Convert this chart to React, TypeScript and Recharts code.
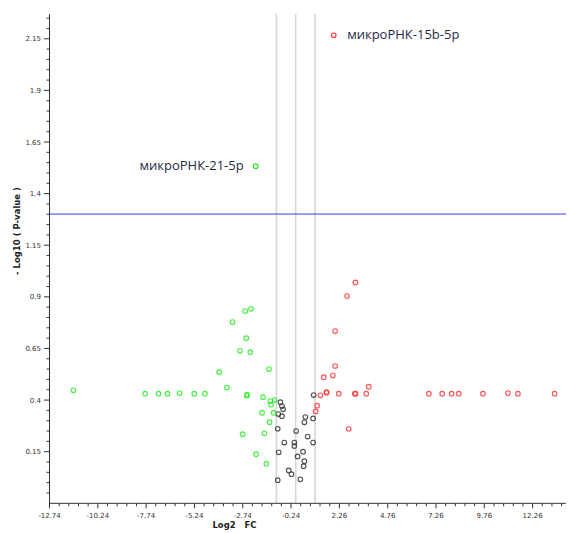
import React from 'react';
import { ScatterChart, Scatter, XAxis, YAxis, ReferenceLine } from 'recharts';

// Down-regulated miRNAs (green): log2 FC and -log10(P)
const downFC = [-11.5, -7.79, -7.1, -6.63, -6.01, -5.25, -4.7, -3.96, -3.56, -3.27, -2.88, -2.75, -2.61, -2.56, -2.52, -2.52, -2.35, -2.31, -2.05, -1.74, -1.69, -1.62, -1.52, -1.38, -1.35, -1.31, -1.28, -1.14, -1.09];
const downP = [0.447, 0.431, 0.431, 0.431, 0.434, 0.431, 0.431, 0.535, 0.461, 0.778, 0.639, 0.235, 0.831, 0.7, 0.427, 0.421, 0.632, 0.842, 0.138, 0.339, 0.414, 0.239, 0.092, 0.55, 0.293, 0.395, 0.379, 0.339, 0.4];

// Not significant (black)
const nsFC = [-0.79, -0.71, -0.65, -0.9, -0.71, -0.93, 0.02, 0.5, 0.45, 0.9, 0.93, 0.62, 0.9, -0.59, -0.07, -0.07, -0.88, 0.38, 0.1, 0.45, 0.41, -0.36, -0.22, -0.93, 0.24];
const nsP = [0.39, 0.371, 0.355, 0.332, 0.322, 0.261, 0.25, 0.318, 0.292, 0.311, 0.424, 0.223, 0.194, 0.194, 0.194, 0.177, 0.147, 0.15, 0.127, 0.104, 0.08, 0.059, 0.041, 0.012, 0.016];

// Up-regulated (red)
const upFC = [3.09, 2.66, 2.04, 2.04, 1.45, 1.92, 3.78, 1.59, 1.6, 1.28, 2.23, 3.06, 3.1, 3.65, 1.11, 1.03, 2.74, 6.89, 7.58, 8.07, 8.44, 9.69, 10.98, 11.5, 13.4];
const upP = [0.97, 0.904, 0.734, 0.565, 0.511, 0.519, 0.465, 0.439, 0.436, 0.423, 0.431, 0.431, 0.431, 0.431, 0.373, 0.345, 0.261, 0.431, 0.431, 0.431, 0.431, 0.431, 0.434, 0.431, 0.431];

// Labelled miRNAs
const labelNames = ['микроРНК-15b-5p', 'микроРНК-21-5p'];
const labelFC = [1.97, -2.07];
const labelP = [2.167, 1.533];

// Thresholds
const fcThresholds = [-1, 0, 1];
const pThreshold = 1.301;

// Axis ticks
const xMajorTicks = [-12.74, -10.24, -7.74, -5.24, -2.74, -0.24, 2.26, 4.76, 7.26, 9.76, 12.26];
const xTickLabels = ['-12.74', '-10.24', '-7.74', '-5.24', '-2.74', '-0.24', '2.26', '4.76', '7.26', '9.76', '12.26'];
const yMajorTicks = [0.15, 0.4, 0.65, 0.9, 1.15, 1.4, 1.65, 1.9, 2.15];
const yTickLabels = ['0.15', '0.4', '0.65', '0.9', '1.15', '1.4', '1.65', '1.9', '2.15'];
const xDomain = [-12.74, 14.35];
const yDomain = [-0.1, 2.27];

const xAllTicks = Array.from({ length: 55 }, (_, i) => Math.round((xMajorTicks[0] + 0.5 * i) * 100) / 100);
const yAllTicks = Array.from({ length: 47 }, (_, i) => Math.round((-0.05 + 0.05 * i) * 100) / 100);

const toPoints = (fc: number[], p: number[]) => fc.map((x, i) => ({ x, y: p[i] }));
const downData = toPoints(downFC, downP);
const nsData = toPoints(nsFC, nsP);
const upData = toPoints(upFC, upP);
const labelData = labelNames.map((name, i) => ({ x: labelFC[i], y: labelP[i], name }));

const GREEN = '#22ee22';
const RED = '#ff3535';
const BLACK = '#333333';
const TICK_FONT = '"DejaVu Sans", sans-serif';

const circle = (color: string) => (props: any) => {
  const { cx, cy } = props;
  if (cx == null || cy == null) return <g />;
  return <circle cx={cx} cy={cy} r={2.3} fill="none" stroke={color} strokeWidth={1.1} strokeOpacity={0.85} />;
};

const LabeledShape = (props: any) => {
  const { cx, cy, payload } = props;
  if (cx == null || cy == null) return <g />;
  const up = payload.x > 0;
  const color = up ? RED : GREEN;
  return (
    <g>
      <circle cx={cx} cy={cy} r={2.3} fill="none" stroke={color} strokeWidth={1.1} />
      <text
        x={up ? cx + 13.4 : cx - 12}
        y={cy + 4}
        textAnchor={up ? 'start' : 'end'}
        fontSize={13}
        fontFamily='"Open Sans", sans-serif'
        fill="#1f2b45"
      >
        {payload.name}
      </text>
    </g>
  );
};

const XTick = (props: any) => {
  const { x, y, payload } = props;
  const idx = xMajorTicks.findIndex((v) => Math.abs(v - payload.value) < 1e-6);
  const major = idx >= 0;
  return (
    <g>
      <line x1={x} y1={y} x2={x} y2={y + (major ? 5 : 3)} stroke="#333" strokeWidth={1} />
      {major && (
        <text x={x} y={y + 15} textAnchor="middle" fontSize={7} fill="#333" fontFamily={TICK_FONT}>
          {xTickLabels[idx]}
        </text>
      )}
    </g>
  );
};

const YTick = (props: any) => {
  const { x, y, payload } = props;
  const idx = yMajorTicks.findIndex((v) => Math.abs(v - payload.value) < 1e-6);
  const major = idx >= 0;
  return (
    <g>
      <line x1={x - (major ? 5.5 : 3)} y1={y} x2={x} y2={y} stroke="#333" strokeWidth={1} />
      {major && (
        <text x={x - 8.5} y={y + 2.5} textAnchor="end" fontSize={7} fill="#333" fontFamily={TICK_FONT}>
          {yTickLabels[idx]}
        </text>
      )}
    </g>
  );
};

export default function App() {
  return (
    <div style={{ position: 'relative', width: 566, height: 525 }}>
      <ScatterChart width={566} height={525} margin={{ top: 6, right: 1, bottom: 0, left: 0 }}>
        <XAxis
          type="number"
          dataKey="x"
          domain={xDomain}
          allowDataOverflow
          ticks={xAllTicks}
          interval={0}
          tick={<XTick />}
          tickLine={false}
          tickSize={0}
          tickMargin={0}
          axisLine={{ stroke: '#333', strokeWidth: 1 }}
          height={29.7}
        />
        <XAxis
          xAxisId="top"
          orientation="top"
          type="number"
          domain={xDomain}
          tick={false}
          tickLine={false}
          axisLine={{ stroke: '#555', strokeWidth: 1.5 }}
          height={0}
        />
        <YAxis
          type="number"
          dataKey="y"
          domain={yDomain}
          allowDataOverflow
          ticks={yAllTicks}
          interval={0}
          tick={<YTick />}
          tickLine={false}
          tickSize={0}
          tickMargin={0}
          axisLine={{ stroke: '#333', strokeWidth: 1 }}
          width={41.5}
        />
        {fcThresholds.map((v) => (
          <ReferenceLine key={v} x={v} stroke="#d6d6d6" strokeWidth={1.6} />
        ))}
        <ReferenceLine y={pThreshold} stroke="#3a3aff" strokeWidth={1} />
        <Scatter data={nsData} shape={circle(BLACK)} isAnimationActive={false} />
        <Scatter data={downData} shape={circle(GREEN)} isAnimationActive={false} />
        <Scatter data={upData} shape={circle(RED)} isAnimationActive={false} />
        <Scatter data={labelData} shape={<LabeledShape />} isAnimationActive={false} />
      </ScatterChart>
      <div
        style={{
          position: 'absolute',
          left: 226.5,
          top: 517,
          transform: 'translate(-50%, -50%)',
          font: 'bold 8.5px "DejaVu Sans", sans-serif',
          lineHeight: 1,
          whiteSpace: 'pre',
          color: '#222',
        }}
      >
        {'Log2   FC'}
      </div>
      <div
        style={{
          position: 'absolute',
          left: 9,
          top: 223,
          transform: 'translate(-50%, -50%) rotate(-90deg)',
          font: 'bold 8.5px "DejaVu Sans", sans-serif',
          lineHeight: 1,
          whiteSpace: 'pre',
          color: '#222',
        }}
      >
        {'- Log10 ( P-value )'}
      </div>
    </div>
  );
}
